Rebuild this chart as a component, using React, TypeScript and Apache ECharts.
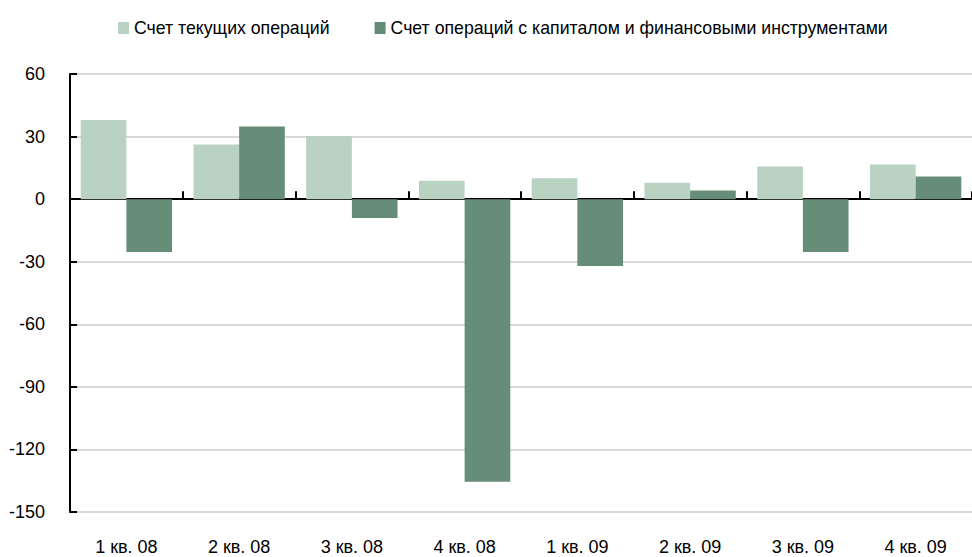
import React, { useEffect, useRef } from "react";
import * as echarts from "echarts";

const categories = ["1 кв. 08", "2 кв. 08", "3 кв. 08", "4 кв. 08", "1 кв. 09", "2 кв. 09", "3 кв. 09", "4 кв. 09"];
const currentAccount = [37.9, 26.2, 30.3, 8.8, 10.0, 7.8, 15.7, 16.6];
const capitalAccount = [-25.3, 34.8, -9.1, -135.5, -32.1, 4.2, -25.3, 10.9];
const seriesNames = ["Счет текущих операций", "Счет операций с капиталом и финансовыми инструментами"];

const FONT = "'Liberation Sans', Arial, sans-serif";

export default function App() {
  const ref = useRef<HTMLDivElement>(null);
  useEffect(() => {
    document.body.style.margin = "0";
    document.body.style.overflow = "hidden";
    const chart = echarts.init(ref.current!, null, { renderer: "svg" });
    chart.setOption({
      animation: false,
      backgroundColor: "#ffffff",
      textStyle: { fontFamily: FONT },
      legend: {
        top: 14,
        left: 113,
        itemWidth: 11,
        itemHeight: 12,
        itemGap: 45,
        icon: "rect",
        textStyle: { fontFamily: FONT, fontSize: 17.7, color: "#000000", padding: [0, 0, 0, 0] },
        data: seriesNames,
      },
      grid: { left: 70, top: 74, bottom: 45, right: -9, containLabel: false },
      xAxis: [
        {
          type: "category",
          data: categories,
          boundaryGap: true,
          axisLine: { onZero: true, lineStyle: { color: "#000000", width: 2 } },
          axisTick: { show: true, inside: true, length: 8, lineStyle: { color: "#000000", width: 2 } },
          axisLabel: { show: false },
          splitLine: { show: false },
        },
        {
          type: "category",
          data: categories,
          position: "bottom",
          axisLine: { show: false, onZero: false },
          axisTick: { show: false },
          axisLabel: { show: true, margin: 26, fontFamily: FONT, fontSize: 18, color: "#000000" },
          splitLine: { show: false },
        },
      ],
      yAxis: {
        type: "value",
        min: -150,
        max: 60,
        interval: 30,
        axisLine: { show: true, lineStyle: { color: "#000000", width: 2 } },
        axisTick: { show: true, inside: true, length: 7, lineStyle: { color: "#000000", width: 2 } },
        axisLabel: { margin: 25, fontFamily: FONT, fontSize: 18, color: "#000000" },
        splitLine: { show: true, lineStyle: { color: "#d9d9d9", width: 2 } },
      },
      series: [
        {
          name: seriesNames[0],
          type: "bar",
          xAxisIndex: 0,
          data: currentAccount,
          barGap: "0%",
          barCategoryGap: "19%",
          itemStyle: { color: "#b9d2c1" },
        },
        {
          name: seriesNames[1],
          type: "bar",
          xAxisIndex: 0,
          data: capitalAccount,
          barGap: "0%",
          barCategoryGap: "19%",
          itemStyle: { color: "#668d77" },
        },
      ],
    });
    return () => chart.dispose();
  }, []);
  return <div ref={ref} style={{ position: "fixed", left: 0, top: 0, width: 972, height: 557 }} />;
}
